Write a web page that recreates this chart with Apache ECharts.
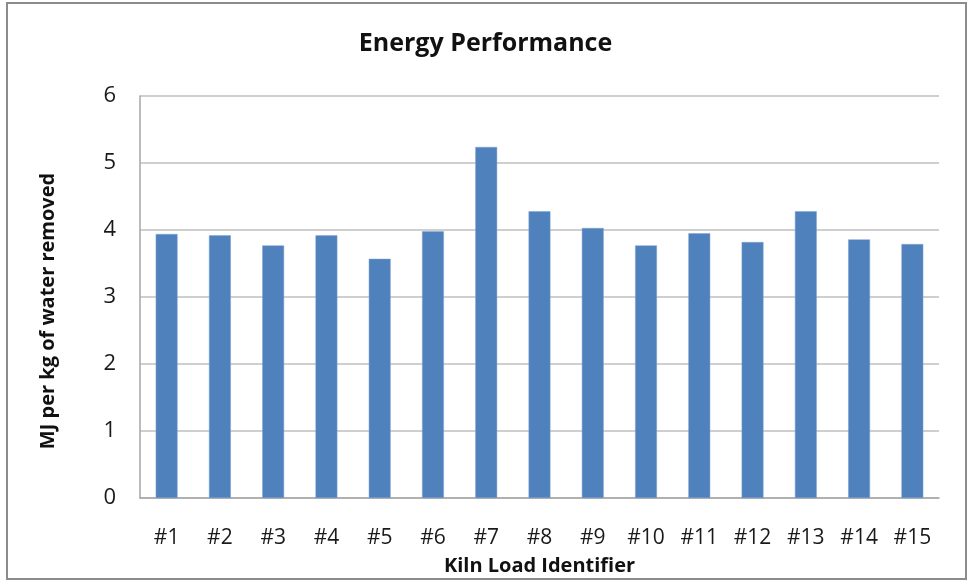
<!DOCTYPE html>
<html>
<head>
<meta charset="utf-8">
<script src="https://cdn.jsdelivr.net/npm/echarts@6/dist/echarts.min.js"></script>
<style>
html,body{margin:0;padding:0;background:#fff;}
#chart{width:971px;height:582px;}
</style>
</head>
<body>
<div id="chart"></div>
<script>
const categories = ['#1','#2','#3','#4','#5','#6','#7','#8','#9','#10','#11','#12','#13','#14','#15'];
const energyValues = [3.94, 3.92, 3.77, 3.92, 3.57, 3.98, 5.24, 4.28, 4.03, 3.77, 3.95, 3.82, 4.28, 3.86, 3.79];
const chartTitle = 'Energy Performance';
const xAxisTitle = 'Kiln Load Identifier';
const yAxisTitle = 'MJ per kg of water removed';

const chart = echarts.init(document.getElementById('chart'), null, {renderer: 'canvas'});
const font = '"Open Sans", "Noto Sans", sans-serif';
chart.setOption({
  animation: false,
  backgroundColor: '#fff',
  title: {
    text: chartTitle,
    left: 'center',
    top: 26,
    textStyle: {fontFamily: font, fontSize: 25, fontWeight: 'bold', color: '#111'}
  },
  graphic: [{
    type: 'rect',
    shape: {x: 7, y: 3, width: 959, height: 576},
    style: {fill: 'none', stroke: '#8c8c8c', lineWidth: 2},
    silent: true
  }],
  grid: {left: 140, right: 32, top: 96, bottom: 84, containLabel: false},
  xAxis: {
    type: 'category',
    data: categories,
    name: xAxisTitle,
    nameLocation: 'middle',
    nameGap: 58,
    nameTextStyle: {fontFamily: font, fontSize: 20, fontWeight: 'bold', color: '#111'},
    axisLine: {lineStyle: {color: '#a6a6a6', width: 1.5}},
    axisTick: {show: false},
    axisLabel: {fontFamily: font, fontSize: 21, color: '#1a1a1a', margin: 30}
  },
  yAxis: {
    type: 'value',
    min: 0, max: 6, interval: 1,
    name: yAxisTitle,
    nameLocation: 'middle',
    nameGap: 82,
    nameRotate: 90,
    nameTextStyle: {fontFamily: font, fontSize: 20, fontWeight: 'bold', color: '#111', padding: [0, 28, 0, 0]},
    axisLine: {show: true, lineStyle: {color: '#a6a6a6', width: 1.5}},
    axisTick: {show: false},
    axisLabel: {fontFamily: font, fontSize: 22, color: '#1a1a1a', margin: 24},
    splitLine: {lineStyle: {color: '#bfbfbf', width: 1.5}}
  },
  series: [{
    type: 'bar',
    data: energyValues,
    barWidth: '41%',
    itemStyle: {color: '#4F81BD', borderColor: '#7ea3d2', borderWidth: 0.5}
  }]
});
</script>
</body>
</html>
